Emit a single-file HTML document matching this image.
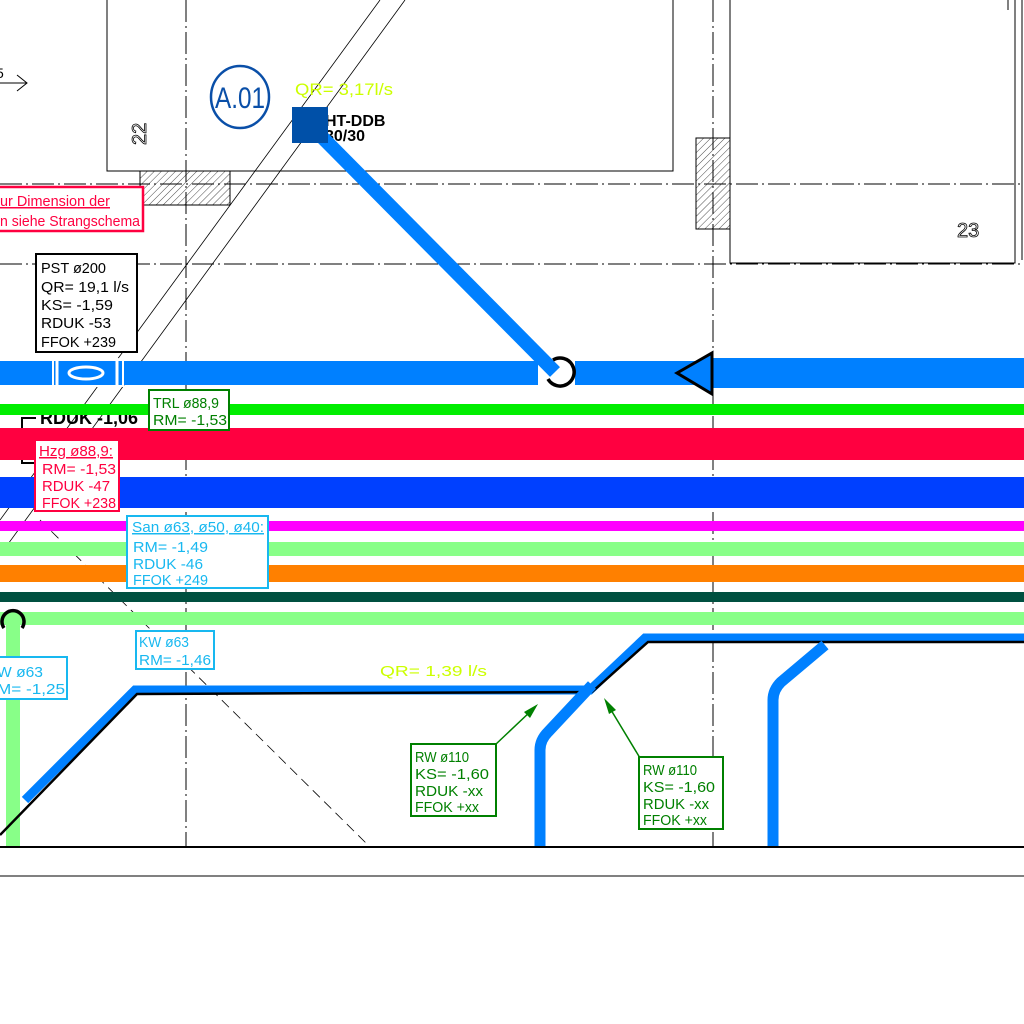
<!DOCTYPE html>
<html><head><meta charset="utf-8"><style>
html,body{margin:0;padding:0;background:#fff;}
svg{display:block;}
text{font-family:"Liberation Sans Narrow","Liberation Sans",sans-serif;}
</style></head><body>
<svg width="1024" height="1024" viewBox="0 0 1024 1024" xmlns="http://www.w3.org/2000/svg">
<defs>
<pattern id="h" width="5" height="5" patternUnits="userSpaceOnUse" patternTransform="rotate(45)">
<line x1="0" y1="0" x2="0" y2="5" stroke="#000" stroke-width="0.7"/></pattern>
</defs>
<rect x="107" y="-5" width="566" height="176" fill="none" stroke="#000" stroke-width="1"/>
<rect x="730" y="-5" width="285" height="268" fill="none" stroke="#000" stroke-width="1"/>
<line x1="1022" y1="0" x2="1022" y2="260" stroke="#000" stroke-width="1"/>
<rect x="140" y="171" width="90" height="34" fill="url(#h)" stroke="#000" stroke-width="1"/>
<rect x="696" y="138" width="34" height="91" fill="url(#h)" stroke="#000" stroke-width="1"/>
<g stroke="#000" stroke-width="1" stroke-dasharray="22,4,2,4" fill="none">
<line x1="0" y1="184" x2="1024" y2="184"/>
<line x1="0" y1="264" x2="1024" y2="264"/>
<line x1="186" y1="0" x2="186" y2="847"/>
<line x1="713" y1="0" x2="713" y2="847"/>
<line x1="1008" y1="0" x2="1008" y2="10"/>
</g>
<g stroke="#000" stroke-width="0.8" fill="none">
<line x1="380" y1="0" x2="0" y2="520"/>
<line x1="405" y1="0" x2="0" y2="555"/>
<line x1="40" y1="520" x2="370" y2="847" stroke-dasharray="10,6"/>
</g>
<line x1="0" y1="83" x2="27" y2="83" stroke="#000" stroke-width="1"/>
<polyline points="17,75 27,83 17,91" fill="none" stroke="#000" stroke-width="1"/>
<text x="-4" y="78" font-size="14" fill="#000">5</text>
<text transform="translate(146,145) rotate(-90)" font-size="20" fill="none" stroke="#000" stroke-width="0.8">22</text>
<text x="957" y="237" font-size="20" fill="none" stroke="#000" stroke-width="0.8">23</text>
<ellipse cx="240" cy="97" rx="29" ry="31" fill="none" stroke="#0a4fa8" stroke-width="2.5"/>
<text x="240" y="108" font-size="30" fill="#0a4fa8" text-anchor="middle" textLength="50" lengthAdjust="spacingAndGlyphs">A.01</text>
<text x="295" y="95" font-size="17" fill="#ccff00" textLength="98" lengthAdjust="spacingAndGlyphs">QR= 3,17l/s</text>
<text x="325" y="126" font-size="16" font-weight="bold" fill="#000" font-family="Liberation Mono">HT-DDB</text>
<text x="325" y="141" font-size="16" font-weight="bold" fill="#000" font-family="Liberation Mono">30/30</text>
<!-- RDUK behind pipes -->
<text x="40" y="424" font-size="18" font-weight="bold" fill="#000">RDUK -1,06</text>
<text x="95" y="470" font-size="18" font-weight="bold" fill="#000">,06</text>
<polyline points="22,432 22,418 36,418" fill="none" stroke="#000" stroke-width="2"/>
<polyline points="22,452 22,463 34,463" fill="none" stroke="#000" stroke-width="2"/>
<rect x="0" y="361" width="538" height="24" fill="#0080ff"/>
<rect x="575" y="361" width="140" height="24" fill="#0080ff"/>
<rect x="712" y="358" width="312" height="30" fill="#0080ff"/>
<line x1="312" y1="127" x2="555" y2="372" stroke="#0080ff" stroke-width="14"/>
<rect x="292" y="107" width="36" height="36" fill="#0050a8"/>
<path d="M548,379 A14,14 0 1 0 553,360" fill="none" stroke="#000" stroke-width="3.5"/>
<polygon points="677,373 712,353 712,394" fill="#0080ff" stroke="#000" stroke-width="3"/>
<rect x="53" y="360" width="70" height="26" fill="none" stroke="#fff" stroke-width="2"/>
<line x1="57" y1="358" x2="57" y2="388" stroke="#fff" stroke-width="3"/>
<line x1="117" y1="358" x2="117" y2="388" stroke="#fff" stroke-width="3"/>
<ellipse cx="86" cy="373" rx="17" ry="6" fill="none" stroke="#fff" stroke-width="3"/>
<rect x="0" y="404" width="1024" height="11" fill="#00ee00"/>
<rect x="0" y="428" width="1024" height="32" fill="#ff0040"/>
<rect x="0" y="477" width="1024" height="31" fill="#0040ff"/>
<rect x="0" y="521" width="1024" height="10" fill="#ff00ff"/>
<rect x="0" y="542" width="1024" height="14" fill="#88ff88"/>
<rect x="0" y="565" width="1024" height="17" fill="#ff8000"/>
<rect x="0" y="592" width="1024" height="10" fill="#005040"/>
<rect x="0" y="612" width="1024" height="13" fill="#88ff88"/>
<rect x="6" y="620" width="14" height="227" fill="#88ff88"/>
<path d="M4,628 A11,11 0 1 1 22,628" fill="none" stroke="#000" stroke-width="3.5"/>
<polyline points="25,800 135,690 590,690 645,638 1024,638" fill="none" stroke="#0080ff" stroke-width="9"/>
<polyline points="0,835 137,694 592,692 648,642 1024,642" fill="none" stroke="#000" stroke-width="2.5"/>
<path d="M540,847 L540,750 Q540,740 548,732 L592,685" fill="none" stroke="#0080ff" stroke-width="11"/>
<path d="M773,847 L773,700 Q773,690 781,682 L825,645" fill="none" stroke="#0080ff" stroke-width="11"/>
<line x1="0" y1="847" x2="1024" y2="847" stroke="#000" stroke-width="2"/>
<line x1="0" y1="876" x2="1024" y2="876" stroke="#000" stroke-width="1"/>
<g font-size="15">
<rect x="-5" y="187" width="148" height="44" fill="#fff" stroke="#ff0040" stroke-width="2.5"/>
<text x="0" y="206" fill="#ff0040" textLength="110" lengthAdjust="spacingAndGlyphs" text-decoration="underline">ur Dimension der</text>
<text x="0" y="226" fill="#ff0040" textLength="140" lengthAdjust="spacingAndGlyphs">n siehe Strangschema</text>
<rect x="36" y="254" width="101" height="98" fill="#fff" stroke="#000" stroke-width="2"/>
<g fill="#000"><text x="41" y="273" textLength="65" lengthAdjust="spacingAndGlyphs">PST ø200</text>
<text x="41" y="292" textLength="88" lengthAdjust="spacingAndGlyphs">QR= 19,1 l/s</text>
<text x="41" y="310" textLength="72" lengthAdjust="spacingAndGlyphs">KS= -1,59</text>
<text x="41" y="328" textLength="70" lengthAdjust="spacingAndGlyphs">RDUK -53</text>
<text x="41" y="347" textLength="75" lengthAdjust="spacingAndGlyphs">FFOK +239</text></g>
<rect x="149" y="390" width="80" height="40" fill="#fff" stroke="#008000" stroke-width="2"/>
<text x="153" y="408" fill="#008000" textLength="66" lengthAdjust="spacingAndGlyphs">TRL ø88,9</text>
<text x="153" y="425" fill="#008000" textLength="74" lengthAdjust="spacingAndGlyphs">RM= -1,53</text>
<rect x="35" y="440" width="84" height="71" fill="#fff" stroke="#ff0040" stroke-width="2"/>
<text x="39" y="456" fill="#ff0040" textLength="74" lengthAdjust="spacingAndGlyphs" text-decoration="underline">Hzg ø88,9:</text>
<text x="42" y="474" fill="#ff0040" textLength="74" lengthAdjust="spacingAndGlyphs">RM= -1,53</text>
<text x="42" y="491" fill="#ff0040" textLength="68" lengthAdjust="spacingAndGlyphs">RDUK -47</text>
<text x="42" y="508" fill="#ff0040" textLength="74" lengthAdjust="spacingAndGlyphs">FFOK +238</text>
<rect x="127" y="516" width="141" height="72" fill="#fff" stroke="#18b8f0" stroke-width="2"/>
<text x="132" y="532" fill="#18b8f0" textLength="132" lengthAdjust="spacingAndGlyphs" text-decoration="underline">San ø63, ø50, ø40:</text>
<text x="133" y="552" fill="#18b8f0" textLength="75" lengthAdjust="spacingAndGlyphs">RM= -1,49</text>
<text x="133" y="569" fill="#18b8f0" textLength="70" lengthAdjust="spacingAndGlyphs">RDUK -46</text>
<text x="133" y="585" fill="#18b8f0" textLength="75" lengthAdjust="spacingAndGlyphs">FFOK +249</text>
<rect x="136" y="631" width="78" height="38" fill="#fff" stroke="#18b8f0" stroke-width="2"/>
<text x="139" y="647" fill="#18b8f0" textLength="50" lengthAdjust="spacingAndGlyphs">KW ø63</text>
<text x="139" y="665" fill="#18b8f0" textLength="72" lengthAdjust="spacingAndGlyphs">RM= -1,46</text>
<rect x="-5" y="657" width="72" height="42" fill="#fff" stroke="#18b8f0" stroke-width="2"/>
<text x="-3" y="677" fill="#18b8f0" textLength="46" lengthAdjust="spacingAndGlyphs">W ø63</text>
<text x="-3" y="694" fill="#18b8f0" textLength="68" lengthAdjust="spacingAndGlyphs">M= -1,25</text>
<text x="380" y="676" fill="#ccff00" textLength="107" lengthAdjust="spacingAndGlyphs">QR= 1,39 l/s</text>
<line x1="495" y1="745" x2="532" y2="710" stroke="#008000" stroke-width="1.5"/>
<polygon points="538,704 524,712 530,718" fill="#008000"/>
<line x1="640" y1="758" x2="608" y2="705" stroke="#008000" stroke-width="1.5"/>
<polygon points="604,698 609,714 616,710" fill="#008000"/>
<rect x="411" y="744" width="85" height="72" fill="#fff" stroke="#008000" stroke-width="2"/>
<g fill="#008000"><text x="415" y="762" textLength="54" lengthAdjust="spacingAndGlyphs">RW ø110</text>
<text x="415" y="779" textLength="74" lengthAdjust="spacingAndGlyphs">KS= -1,60</text>
<text x="415" y="796" textLength="68" lengthAdjust="spacingAndGlyphs">RDUK -xx</text>
<text x="415" y="812" textLength="64" lengthAdjust="spacingAndGlyphs">FFOK +xx</text></g>
<rect x="639" y="757" width="84" height="72" fill="#fff" stroke="#008000" stroke-width="2"/>
<g fill="#008000"><text x="643" y="775" textLength="54" lengthAdjust="spacingAndGlyphs">RW ø110</text>
<text x="643" y="792" textLength="72" lengthAdjust="spacingAndGlyphs">KS= -1,60</text>
<text x="643" y="809" textLength="66" lengthAdjust="spacingAndGlyphs">RDUK -xx</text>
<text x="643" y="825" textLength="64" lengthAdjust="spacingAndGlyphs">FFOK +xx</text></g>
</g>
</svg>
</body></html>
